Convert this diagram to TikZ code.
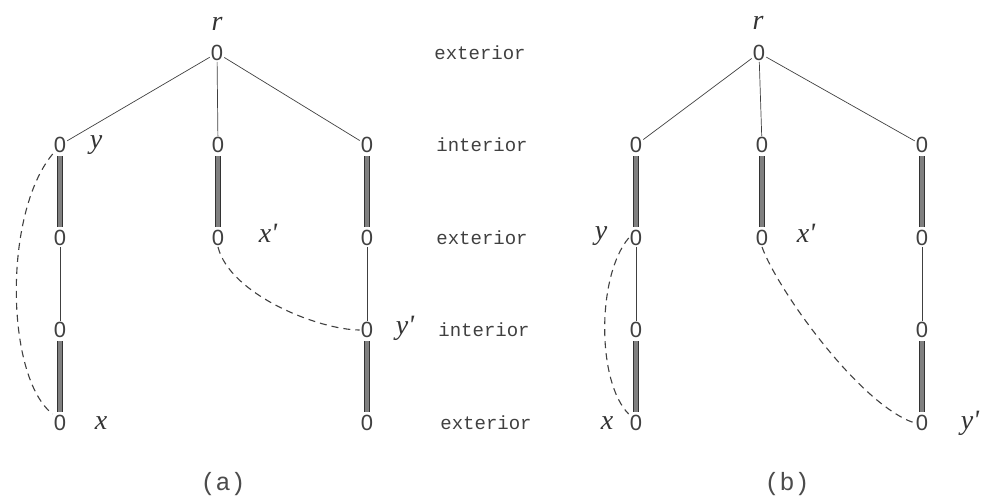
\documentclass[tikz,border=0pt]{standalone}
\usepackage{fontspec}
\newfontfamily\typefont{Liberation Mono}
\newfontfamily\digitfont{Liberation Sans}
\newfontfamily\letterfont{Liberation Serif}
\usetikzlibrary{positioning}

\begin{document}
\begin{tikzpicture}[
    x=1pt, y=-1pt,
    vert/.style={
        font=\digitfont\fontsize{22}{22}\selectfont,
        text=black!75,
        inner sep=1pt
    },
    var/.style={
        font=\letterfont\itshape\fontsize{28}{28}\selectfont,
        text=black!80,
        inner sep=0pt
    },
    row label/.style={
        font=\typefont\fontsize{19}{19}\selectfont,
        text=black!75
    },
    caption/.style={
        font=\typefont\fontsize{25}{25}\selectfont,
        text=black!70
    },
    tree line/.style={draw=black!75, line width=0.7pt},
    bar/.style={
        draw=black!80,
        line width=1pt,
        double=black!50,
        double distance=4.5pt,
        shorten <=2.5pt,
        shorten >=2.5pt
    },
    link/.style={
        draw=black!75,
        line width=1.1pt,
        dash pattern=on 7pt off 5pt
    }
]
\useasboundingbox (0,0) rectangle (981,498);

% Tree (a)
\node[vert] (a1)  at (217,53)  {0};
\node[vert] (a21) at (60,145)  {0};
\node[vert] (a22) at (218,145) {0};
\node[vert] (a23) at (367,145) {0};
\node[vert] (a31) at (60,238)  {0};
\node[vert] (a32) at (218,238) {0};
\node[vert] (a33) at (367,238) {0};
\node[vert] (a41) at (60,330)  {0};
\node[vert] (a43) at (367,330) {0};
\node[vert] (a51) at (60,423)  {0};
\node[vert] (a53) at (367,423) {0};

\draw[tree line] (a1) -- (a21);
\draw[tree line] (a1) -- (a22);
\draw[tree line] (a1) -- (a23);
\draw[bar] (a21) -- (a31);
\draw[bar] (a22) -- (a32);
\draw[bar] (a23) -- (a33);
\draw[tree line] (a31) -- (a41);
\draw[tree line] (a33) -- (a43);
\draw[bar] (a41) -- (a51);
\draw[bar] (a43) -- (a53);

\node[var] (ar)  at (217,24)  {r};
\node[var] (ay)  at (96,145)  {y};
\node[var] (axp) at (268,233) {x'};
\node[var] (ayp) at (405,328) {y'};
\node[var] (ax)  at (101,423) {x};

\draw[link] (a21.south west) .. controls +(-50,60) and +(-47,-36) .. (a51.north west);
\draw[link] (a32.south) .. controls +(12,48) and +(-40,0) .. (a43.west);

\node[caption] (capa) at (223,484) {(a)};

% Level names
\node[row label] (lv1) at (480,53)  {exterior};
\node[row label] (lv2) at (482,145) {interior};
\node[row label] (lv3) at (482,238) {exterior};
\node[row label] (lv4) at (484,330) {interior};
\node[row label] (lv5) at (486,423) {exterior};

% Tree (b)
\node[vert] (b1)  at (759,53)  {0};
\node[vert] (b21) at (636,145) {0};
\node[vert] (b22) at (762,145) {0};
\node[vert] (b23) at (922,145) {0};
\node[vert] (b31) at (636,238) {0};
\node[vert] (b32) at (762,238) {0};
\node[vert] (b33) at (922,238) {0};
\node[vert] (b41) at (636,330) {0};
\node[vert] (b43) at (922,330) {0};
\node[vert] (b51) at (636,423) {0};
\node[vert] (b53) at (922,423) {0};

\draw[tree line] (b1) -- (b21);
\draw[tree line] (b1) -- (b22);
\draw[tree line] (b1) -- (b23);
\draw[bar] (b21) -- (b31);
\draw[bar] (b22) -- (b32);
\draw[bar] (b23) -- (b33);
\draw[tree line] (b31) -- (b41);
\draw[tree line] (b33) -- (b43);
\draw[bar] (b41) -- (b51);
\draw[bar] (b43) -- (b53);

\node[var] (br)  at (758,23)  {r};
\node[var] (by)  at (601,236) {y};
\node[var] (bxp) at (806,233) {x'};
\node[var] (byp) at (970,423) {y'};
\node[var] (bx)  at (607,423) {x};

\draw[link] (b31.west) .. controls +(-32,38) and +(-32,-32) .. (b51.north west);
\draw[link] (b32.south) .. controls +(15,42) and +(-55,-18) .. (b53.west);

\node[caption] (capb) at (787,484) {(b)};

\end{tikzpicture}
\end{document}
